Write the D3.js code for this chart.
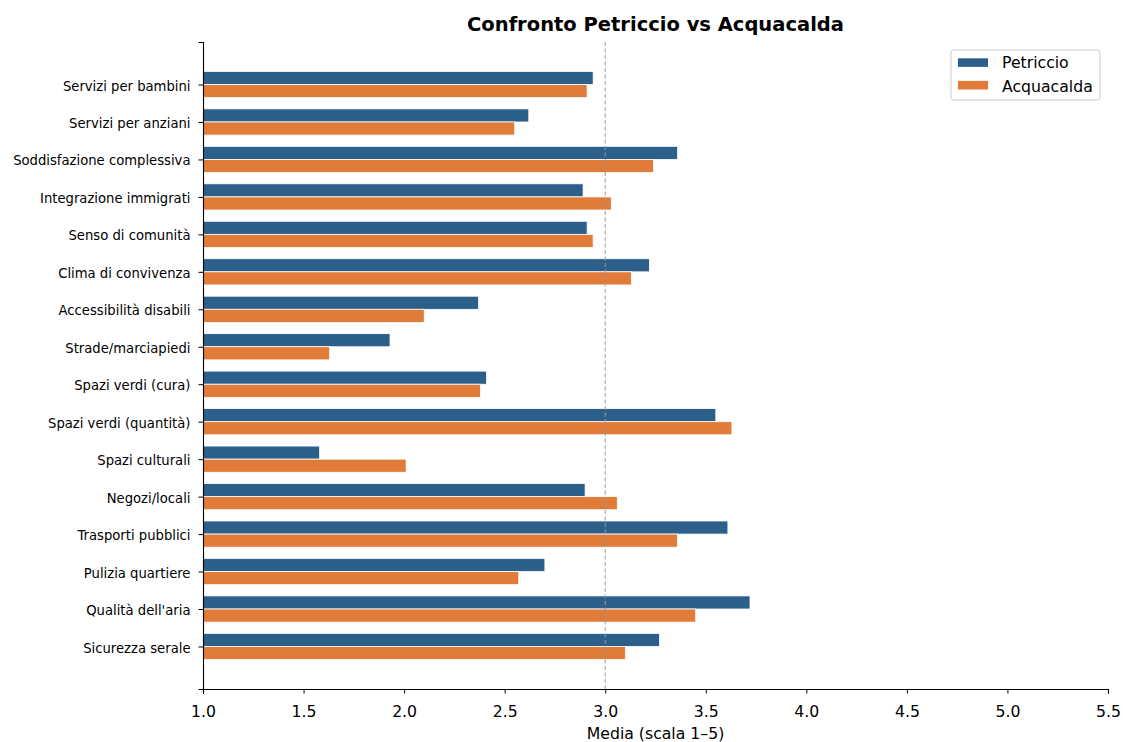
<!DOCTYPE html>
<html><head><meta charset="utf-8">
<script src="https://cdn.jsdelivr.net/npm/d3@7"></script>
<style>body{margin:0;background:#fff;} svg{display:block;font-family:"DejaVu Sans",sans-serif;}</style>
</head><body>
<svg id="chart" width="1123" height="742"></svg>
<script>
const categories = ["Servizi per bambini","Servizi per anziani","Soddisfazione complessiva","Integrazione immigrati","Senso di comunità","Clima di convivenza","Accessibilità disabili","Strade/marciapiedi","Spazi verdi (cura)","Spazi verdi (quantità)","Spazi culturali","Negozi/locali","Trasporti pubblici","Pulizia quartiere","Qualità dell'aria","Sicurezza serale"];
const petriccio = [2.94,2.62,3.36,2.89,2.91,3.22,2.37,1.93,2.41,3.55,1.58,2.90,3.61,2.70,3.72,3.27];
const acquacalda = [2.91,2.55,3.24,3.03,2.94,3.13,2.10,1.63,2.38,3.63,2.01,3.06,3.36,2.57,3.45,3.10];
const seriesNames = ["Petriccio","Acquacalda"];
const colors = ["#2c5f8a","#e07b39"];
const xTicks = [1.0,1.5,2.0,2.5,3.0,3.5,4.0,4.5,5.0,5.5];
const refValue = 3.0;

const svg = d3.select("#chart");
const L = 203, R = 1108, T = 42, B = 689;
const n = categories.length;
const barH = 0.35;
const x = d3.scaleLinear().domain([1.0, 5.5]).range([L, R]);
const y = d3.scaleLinear().domain([-1.135, n - 1 + 1.135]).range([B, T]);
const pos = i => n - 1 - i;

const series = [petriccio, acquacalda];
series.forEach((vals, s) => {
  svg.append("g").selectAll("rect").data(vals).join("rect")
    .attr("x", x(1.0))
    .attr("y", (d, i) => s === 0 ? y(pos(i) + barH) : y(pos(i)))
    .attr("width", d => x(d) - x(1.0))
    .attr("height", y(0) - y(barH))
    .attr("fill", colors[s])
    .attr("stroke", "#fff").attr("stroke-width", 0.8);
});

// reference line
svg.append("line").attr("x1", x(refValue)).attr("x2", x(refValue)).attr("y1", T).attr("y2", B)
  .attr("stroke", "#999").attr("stroke-width", 1).attr("stroke-dasharray", "4,2.5");

// x axis
const xAxis = svg.append("g").attr("transform", `translate(0,${B})`)
  .call(d3.axisBottom(x).tickValues(xTicks).tickFormat(d3.format(".1f")).tickSizeOuter(0).tickSize(4.5).tickPadding(12));
xAxis.select(".domain").attr("stroke", "#000").attr("stroke-width", 1.1);
xAxis.selectAll(".tick line").attr("stroke", "#000");
xAxis.selectAll("text").attr("font-size", 15.7).attr("fill", "#000").attr("font-family", "DejaVu Sans");

// y axis
const yAxis = svg.append("g").attr("transform", `translate(${L},0)`)
  .call(d3.axisLeft(y).tickValues(d3.range(n)).tickFormat(p => categories[n - 1 - p]).tickSizeOuter(0).tickSize(4.5).tickPadding(8));
yAxis.select(".domain").attr("stroke", "#000").attr("stroke-width", 1.1);
yAxis.selectAll(".tick line").attr("stroke", "#000");
yAxis.selectAll("text").attr("font-size", 13.2).attr("fill", "#000").attr("font-family", "DejaVu Sans").attr("dy", "0.42em");

// labels
svg.append("text").attr("x", (L + R) / 2).attr("y", 31).attr("text-anchor", "middle")
  .attr("font-size", 19.5).attr("font-weight", "bold").text("Confronto Petriccio vs Acquacalda");
svg.append("text").attr("x", (L + R) / 2).attr("y", 739).attr("text-anchor", "middle")
  .attr("font-size", 15.7).text("Media (scala 1–5)");

// legend
const lg = svg.append("g");
lg.append("rect").attr("x", 951).attr("y", 50).attr("width", 149).attr("height", 50).attr("rx", 3)
  .attr("fill", "#fff").attr("fill-opacity", 0.8).attr("stroke", "#ccc");
seriesNames.forEach((nm, i) => {
  lg.append("rect").attr("x", 958).attr("y", 58.3 + i * 22.6).attr("width", 30).attr("height", 8.6).attr("fill", colors[i]);
  lg.append("text").attr("x", 1002).attr("y", 68 + i * 23.5).attr("font-size", 15.7).text(nm);
});
</script>
</body></html>
